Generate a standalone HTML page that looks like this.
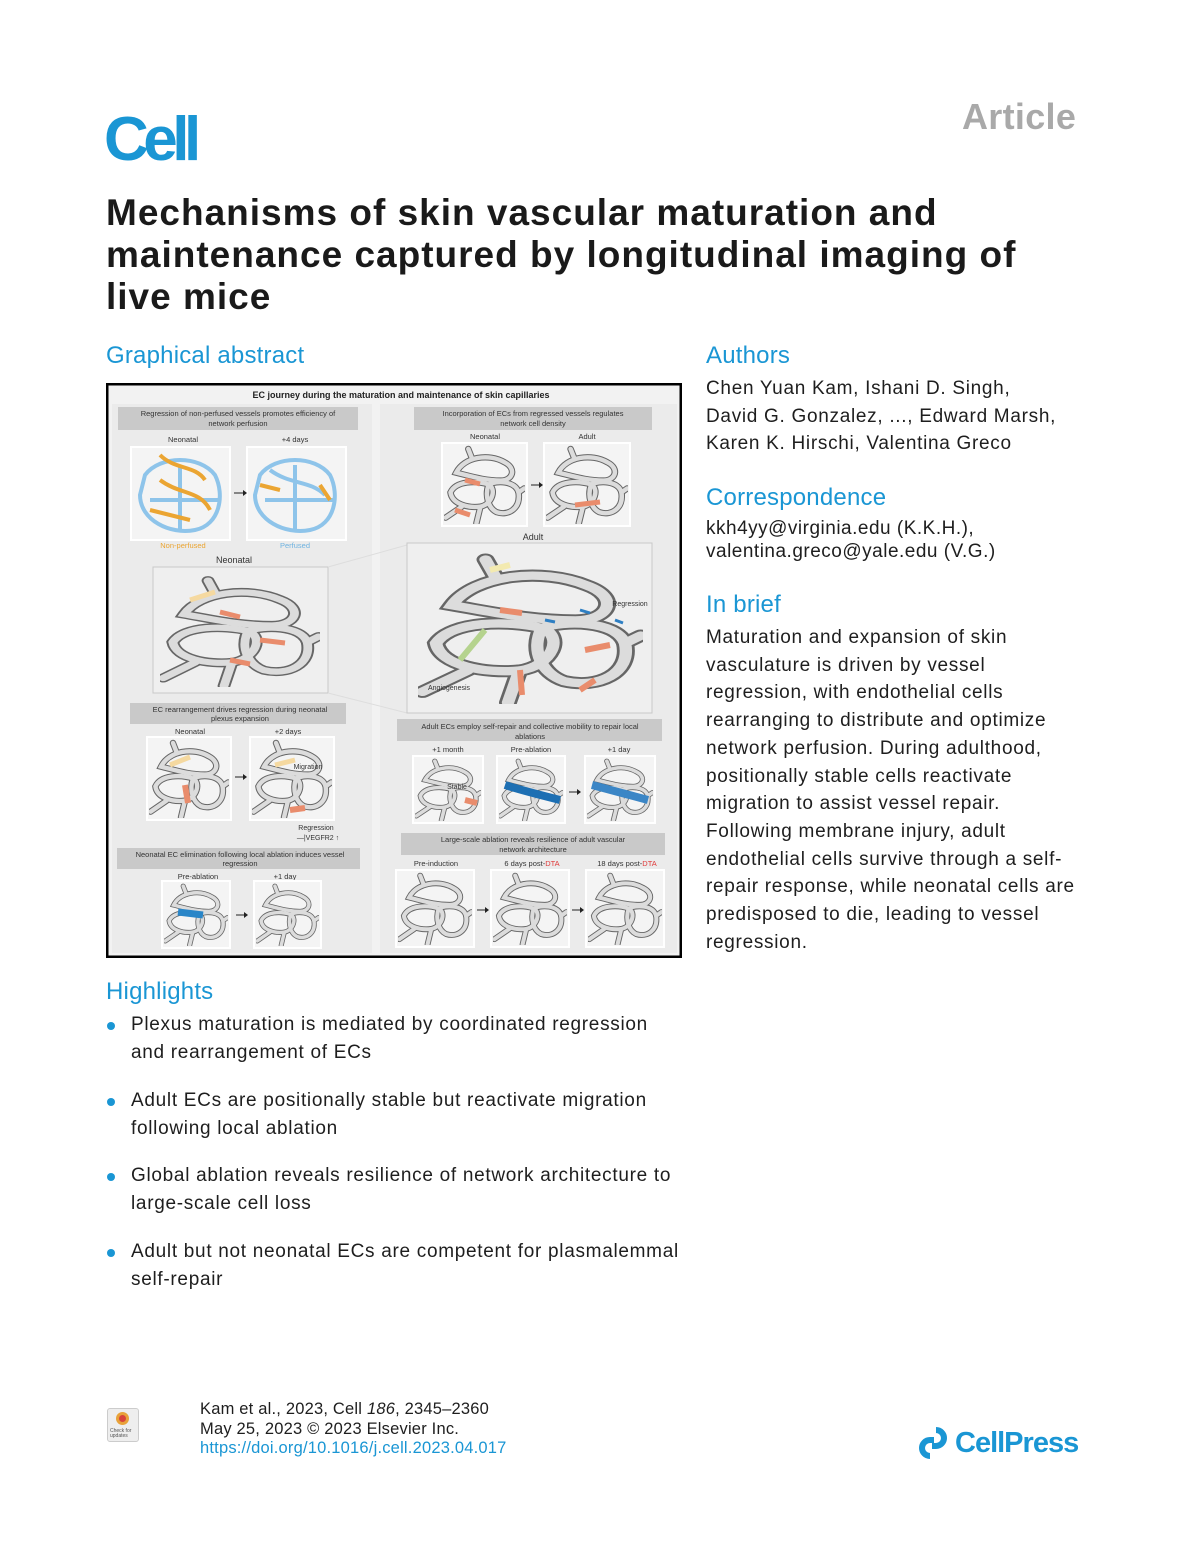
<!DOCTYPE html>
<html><head><meta charset="utf-8">
<style>
html,body{margin:0;padding:0;background:#fff}
body{width:1200px;height:1557px;position:relative;overflow:hidden;font-family:"Liberation Sans",Arial,sans-serif;color:#1e1e1e}
.a{position:absolute;white-space:nowrap}
.h{color:#1a96d4;font-size:24px;letter-spacing:0.2px}
.t{font-size:19px;line-height:27.6px;letter-spacing:0.7px}
.b{position:absolute;width:8px;height:8px;border-radius:50%;background:#1a96d4}
</style></head><body>
<div class="a" style="left:104px;top:104px;font-size:62px;font-weight:bold;color:#1a96d4;letter-spacing:-5.5px;line-height:72px">Cell</div>
<div class="a" style="left:962px;top:97px;font-size:36px;font-weight:bold;color:#a9a9a9;letter-spacing:0.3px;line-height:40px">Article</div>
<div class="a" style="left:106px;top:192px;font-size:37px;font-weight:bold;line-height:42px;letter-spacing:1px;color:#1a1a1a">Mechanisms of skin vascular maturation and<br>maintenance captured by longitudinal imaging of<br>live mice</div>

<div class="a h" style="left:106px;top:342px">Graphical abstract</div>
<div class="a h" style="left:706px;top:342px">Authors</div>
<div class="a t" style="left:706px;top:375px">Chen Yuan Kam, Ishani D. Singh,<br>David G. Gonzalez, ..., Edward Marsh,<br>Karen K. Hirschi, Valentina Greco</div>
<div class="a h" style="left:706px;top:484px">Correspondence</div>
<div class="a" style="left:706px;top:517px;font-size:19px;line-height:23px;letter-spacing:0.5px">kkh4yy@virginia.edu (K.K.H.),<br>valentina.greco@yale.edu (V.G.)</div>
<div class="a h" style="left:706px;top:591px">In brief</div>
<div class="a t" style="left:706px;top:624px;line-height:27.7px">Maturation and expansion of skin<br>vasculature is driven by vessel<br>regression, with endothelial cells<br>rearranging to distribute and optimize<br>network perfusion. During adulthood,<br>positionally stable cells reactivate<br>migration to assist vessel repair.<br>Following membrane injury, adult<br>endothelial cells survive through a self-<br>repair response, while neonatal cells are<br>predisposed to die, leading to vessel<br>regression.</div>

<div class="a h" style="left:106px;top:978px">Highlights</div>
<div class="b" style="left:107px;top:1022px"></div>
<div class="a t" style="left:131px;top:1011px">Plexus maturation is mediated by coordinated regression<br>and rearrangement of ECs</div>
<div class="b" style="left:107px;top:1098px"></div>
<div class="a t" style="left:131px;top:1087px">Adult ECs are positionally stable but reactivate migration<br>following local ablation</div>
<div class="b" style="left:107px;top:1173px"></div>
<div class="a t" style="left:131px;top:1162px">Global ablation reveals resilience of network architecture to<br>large-scale cell loss</div>
<div class="b" style="left:107px;top:1249px"></div>
<div class="a t" style="left:131px;top:1238px">Adult but not neonatal ECs are competent for plasmalemmal<br>self-repair</div>

<div class="a" style="left:107px;top:1408px;width:30px;height:32px;background:#eee;border:1px solid #ccc;border-radius:3px">
<div style="position:absolute;left:8px;top:3px;width:13px;height:13px;border-radius:50%;background:#e8a23a"></div>
<div style="position:absolute;left:11px;top:6px;width:7px;height:7px;border-radius:50%;background:#d8433b"></div>
<div style="position:absolute;left:2px;top:20px;font-size:5px;line-height:5px;color:#555">Check for<br>updates</div></div>
<div class="a" style="left:200px;top:1400px;font-size:16.5px;line-height:19.5px;letter-spacing:0.2px">Kam et al., 2023, Cell <i>186</i>, 2345–2360<br>May 25, 2023 © 2023 Elsevier Inc.<br><span style="color:#1a96d4">https://doi.org/10.1016/j.cell.2023.04.017</span></div>
<div class="a" style="left:918px;top:1427px;width:30px;height:32px">
<svg width="30" height="32" viewBox="0 0 30 32"><path d="M18,3 a8,8 0 1,1 0,16 h-4 M12,29 a8,8 0 1,1 0,-16 h4" fill="none" stroke="#1a96d4" stroke-width="6"/></svg></div>
<div class="a" style="left:955px;top:1426px;font-size:29px;font-weight:bold;color:#1a96d4;letter-spacing:-1px;line-height:34px">CellPress</div>

<svg class="a" style="left:106px;top:383px" width="576" height="575" viewBox="106 383 576 575" font-family="Liberation Sans, Arial, sans-serif">
<defs>
<symbol id="net" viewBox="0 0 100 100" preserveAspectRatio="none">
<g fill="none" stroke-linecap="round">
<g stroke="#666" stroke-width="8">
<path d="M15,35 C25,15 55,10 75,22 C90,30 85,45 70,45 C50,45 35,40 15,35 Z"/>
<path d="M8,60 C15,45 40,45 55,50 C65,55 60,75 45,78 C30,80 10,75 8,60 Z"/>
<path d="M55,50 C65,45 88,45 92,60 C95,80 80,90 65,85 C55,80 50,65 55,50 Z"/>
<path d="M2,92 L22,78 M45,78 L40,99 M92,60 L99,55 M30,5 L35,18"/></g>
<g stroke="#dcdcdc" stroke-width="5.5">
<path d="M15,35 C25,15 55,10 75,22 C90,30 85,45 70,45 C50,45 35,40 15,35 Z"/>
<path d="M8,60 C15,45 40,45 55,50 C65,55 60,75 45,78 C30,80 10,75 8,60 Z"/>
<path d="M55,50 C65,45 88,45 92,60 C95,80 80,90 65,85 C55,80 50,65 55,50 Z"/>
<path d="M2,92 L22,78 M45,78 L40,99 M92,60 L99,55 M30,5 L35,18"/></g>
</g></symbol>
</defs>
<rect x="106" y="383" width="576" height="575" fill="#f2f2f2"/>
<rect x="107" y="384" width="574" height="573" fill="none" stroke="#000" stroke-width="3"/>
<text x="401" y="398" font-size="9" font-weight="bold" text-anchor="middle" fill="#222">EC journey during the maturation and maintenance of skin capillaries</text>
<rect x="112" y="404" width="260" height="549" fill="#ebebeb"/>
<rect x="380" y="404" width="297" height="549" fill="#ebebeb"/>
<g font-size="7.5" fill="#333" text-anchor="middle">
<rect x="118" y="407" width="240" height="23" fill="#c9c9c9"/>
<text x="238" y="416">Regression of non-perfused vessels promotes efficiency of</text><text x="238" y="426">network perfusion</text>
<rect x="414" y="407" width="238" height="23" fill="#c9c9c9"/>
<text x="533" y="416">Incorporation of ECs from regressed vessels regulates</text><text x="533" y="426">network cell density</text>
<text x="183" y="442">Neonatal</text><text x="295" y="442">+4 days</text>
<rect x="131" y="447" width="99" height="93" fill="#f4f4f4" stroke="#fff" stroke-width="2"/>
<rect x="247" y="447" width="99" height="93" fill="#f4f4f4" stroke="#fff" stroke-width="2"/>
<g fill="none" stroke-width="4">
<path d="M145,475 C160,455 200,455 215,475 C225,495 220,525 195,530 C170,535 140,520 140,495 Z M150,500 L220,500 M180,465 L180,530" stroke="#8ec4ea"/>
<path d="M160,455 C175,470 195,465 205,480 M160,480 C180,495 200,490 210,510 M150,510 L190,520" stroke="#eba532"/>
<path d="M260,475 C275,455 315,455 330,475 C340,495 335,525 310,530 C285,535 255,520 255,495 Z M265,500 L335,500 M295,465 L295,530 M270,470 C290,485 310,480 325,495" stroke="#8ec4ea"/>
<path d="M260,485 L280,490 M320,485 L330,500" stroke="#eba532"/></g>
<path d="M234,493 h9" stroke="#222"/><path d="M243,490 l4,3 l-4,3z" fill="#222"/>
<text x="183" y="548" fill="#eba532">Non-perfused</text><text x="295" y="548" fill="#6fb3e0">Perfused</text>
<text x="234" y="563" font-size="9">Neonatal</text>
<rect x="153" y="567" width="175" height="126" fill="#efefef" stroke="#c8c8c8"/>
<use href="#net" x="160" y="575" width="160" height="112"/>
<path d="M220,612 l20,5 M260,640 l25,3 M230,660 l20,4" stroke="#e98c6c" stroke-width="5"/>
<path d="M190,600 l25,-8" stroke="#f5d9a0" stroke-width="5"/>
<line x1="328" y1="567" x2="407" y2="545" stroke="#ddd"/>
<line x1="328" y1="693" x2="407" y2="713" stroke="#ddd"/>
<text x="485" y="439">Neonatal</text><text x="587" y="439">Adult</text>
<rect x="442" y="443" width="85" height="83" fill="#f4f4f4" stroke="#fff" stroke-width="2"/>
<rect x="544" y="443" width="86" height="83" fill="#f4f4f4" stroke="#fff" stroke-width="2"/>
<use href="#net" x="444" y="445" width="81" height="79"/>
<use href="#net" x="546" y="445" width="82" height="79"/>
<path d="M465,480 l15,4 M455,510 l15,5" stroke="#e98c6c" stroke-width="5"/>
<path d="M575,505 l25,-3" stroke="#e98c6c" stroke-width="5"/>
<path d="M531,485 h8" stroke="#222"/><path d="M539,482 l4,3 l-4,3z" fill="#222"/>
<text x="533" y="540" font-size="9">Adult</text>
<rect x="407" y="543" width="245" height="170" fill="#efefef" stroke="#c8c8c8"/>
<use href="#net" x="418" y="552" width="225" height="152"/>
<path d="M500,610 l22,3 M520,670 l2,25 M585,650 l25,-5 M580,690 l15,-10" stroke="#e98c6c" stroke-width="6"/>
<path d="M460,660 l25,-30" stroke="#b5d38e" stroke-width="6"/>
<path d="M490,570 l20,-5" stroke="#f3eab0" stroke-width="6"/>
<path d="M545,620 l10,2 M580,610 l10,3 M615,620 l8,3" stroke="#2e7fc3" stroke-width="3"/>
<text x="630" y="606" font-size="7">Regression</text><text x="449" y="690" font-size="7">Angiogenesis</text>
<rect x="130" y="703" width="216" height="21" fill="#c9c9c9"/>
<text x="240" y="712">EC rearrangement drives regression during neonatal</text><text x="240" y="721">plexus expansion</text>
<text x="190" y="734">Neonatal</text><text x="288" y="734">+2 days</text>
<rect x="147" y="737" width="84" height="83" fill="#f4f4f4" stroke="#fff" stroke-width="2"/>
<rect x="250" y="737" width="84" height="83" fill="#f4f4f4" stroke="#fff" stroke-width="2"/>
<use href="#net" x="149" y="739" width="80" height="79"/>
<use href="#net" x="252" y="739" width="80" height="79"/>
<path d="M185,785 l3,18 M290,810 l15,-2" stroke="#e98c6c" stroke-width="6"/>
<path d="M170,765 l20,-8 M275,765 l20,-5" stroke="#f5d9a0" stroke-width="5"/>
<path d="M235,777 h8" stroke="#222"/><path d="M243,774 l4,3 l-4,3z" fill="#222"/>
<text x="308" y="769" font-size="7">Migration</text>
<text x="316" y="830" font-size="7">Regression</text><text x="318" y="840" font-size="7">—|VEGFR2 ↑</text>
<rect x="117" y="848" width="243" height="21" fill="#c9c9c9"/>
<text x="240" y="857">Neonatal EC elimination following local ablation induces vessel</text><text x="240" y="866">regression</text>
<text x="198" y="879">Pre-ablation</text><text x="285" y="879">+1 day</text>
<rect x="162" y="881" width="68" height="67" fill="#f4f4f4" stroke="#fff" stroke-width="2"/>
<rect x="254" y="881" width="67" height="67" fill="#f4f4f4" stroke="#fff" stroke-width="2"/>
<use href="#net" x="164" y="883" width="64" height="63"/>
<use href="#net" x="256" y="883" width="63" height="63"/>
<path d="M178,912 l25,3" stroke="#2a86c8" stroke-width="7"/>
<path d="M236,915 h8" stroke="#222"/><path d="M244,912 l4,3 l-4,3z" fill="#222"/>
<rect x="397" y="719" width="265" height="22" fill="#c9c9c9"/>
<text x="530" y="729">Adult ECs employ self-repair and collective mobility to repair local</text><text x="530" y="739">ablations</text>
<text x="448" y="752">+1 month</text><text x="531" y="752">Pre-ablation</text><text x="619" y="752">+1 day</text>
<rect x="413" y="756" width="70" height="67" fill="#f4f4f4" stroke="#fff" stroke-width="2"/>
<rect x="497" y="756" width="68" height="67" fill="#f4f4f4" stroke="#fff" stroke-width="2"/>
<rect x="585" y="756" width="70" height="67" fill="#f4f4f4" stroke="#fff" stroke-width="2"/>
<use href="#net" x="415" y="758" width="66" height="63"/>
<use href="#net" x="499" y="758" width="64" height="63"/>
<use href="#net" x="587" y="758" width="66" height="63"/>
<text x="457" y="789" font-size="7">Stable</text>
<path d="M465,800 l12,3" stroke="#e98c6c" stroke-width="6"/>
<path d="M505,785 C520,790 540,795 560,800" stroke="#1d6fb3" stroke-width="8" fill="none"/>
<path d="M592,785 C610,790 630,795 648,800" stroke="#3b86c6" stroke-width="8" fill="none"/>
<path d="M569,792 h8" stroke="#222"/><path d="M577,789 l4,3 l-4,3z" fill="#222"/>
<rect x="401" y="833" width="264" height="22" fill="#c9c9c9"/>
<text x="533" y="842">Large-scale ablation reveals resilience of adult vascular</text><text x="533" y="852">network architecture</text>
<text x="436" y="866">Pre-induction</text><text x="532" y="866">6 days post-<tspan fill="#e03a3a">DTA</tspan></text><text x="627" y="866">18 days post-<tspan fill="#e03a3a">DTA</tspan></text>
<rect x="396" y="870" width="78" height="77" fill="#f4f4f4" stroke="#fff" stroke-width="2"/>
<rect x="491" y="870" width="78" height="77" fill="#f4f4f4" stroke="#fff" stroke-width="2"/>
<rect x="586" y="870" width="78" height="77" fill="#f4f4f4" stroke="#fff" stroke-width="2"/>
<use href="#net" x="398" y="872" width="74" height="73"/>
<use href="#net" x="493" y="872" width="74" height="73"/>
<use href="#net" x="588" y="872" width="74" height="73"/>
<path d="M477,910 h8" stroke="#222"/><path d="M485,907 l4,3 l-4,3z" fill="#222"/>
<path d="M572,910 h8" stroke="#222"/><path d="M580,907 l4,3 l-4,3z" fill="#222"/>
</g>
</svg>
</body></html>
